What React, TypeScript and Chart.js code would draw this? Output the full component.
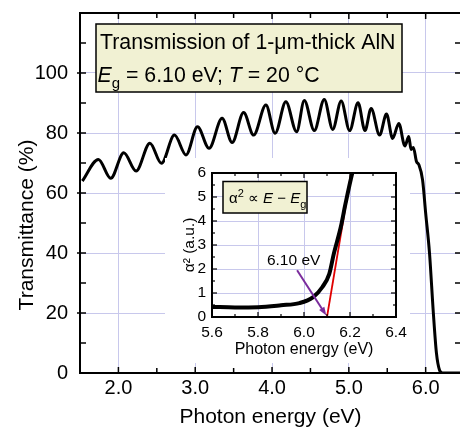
import React, { useEffect, useRef } from 'react';
import { Chart, registerables } from 'chart.js';

Chart.register(...registerables);

const FONT = '"Liberation Sans", Arial, Helvetica, sans-serif';
const GRID = '#c8c8ec';
const BOX_FILL = '#f1f1d3';

// ---- main spectrum (photon energy in eV, transmittance in %) ----
const photonEnergy = [
  1.53, 1.74, 1.90, 2.07, 2.23, 2.41, 2.56, 2.73, 2.88, 3.03, 3.18, 3.35, 3.48, 3.63, 3.76,
  3.92, 4.04, 4.18, 4.32, 4.42, 4.55, 4.68, 4.79, 4.90, 5.01, 5.12, 5.21, 5.29, 5.40, 5.49,
  5.57, 5.65, 5.73, 5.78, 5.81, 5.84, 5.88, 5.91, 5.96, 6.00, 6.05, 6.10, 6.14, 6.18, 6.22, 6.46,
];
const transmittance = [
  64, 71.2, 64.9, 73.4, 67.3, 76.6, 69.9, 79.3, 72.7, 82.1, 74.9, 84.9, 76.8, 86.8, 79.3,
  89.3, 79.9, 90.4, 80.4, 90.8, 80.8, 91.2, 81.2, 90.7, 80.8, 90.1, 80.8, 88.2, 79.3, 86.3,
  78.2, 83.2, 75.7, 78.8, 74.5, 75.2, 70.5, 69.5, 64.3, 53.3, 40, 20, 6.7, 1, 0, 0,
];
const mainXTicks = [2, 3, 4, 5, 6];
const mainYTicks = [0, 20, 40, 60, 80, 100];

// ---- inset: alpha^2 vs photon energy ----
const insetEnergy = [5.6, 5.7, 5.8, 5.9, 5.98, 6.04, 6.08, 6.11, 6.13, 6.16, 6.18, 6.21, 6.24];
const insetAlphaSq = [0.42, 0.4, 0.41, 0.49, 0.58, 0.83, 1.25, 1.8, 2.65, 3.75, 4.7, 6.0, 7.0];
const fitEnergy = [6.1, 6.205];
const fitAlphaSq = [0, 6];
const insetXTicks = [5.6, 5.8, 6.0, 6.2, 6.4];
const insetYTicks = [0, 1, 2, 3, 4, 5, 6];
const arrowStart = { x: 5.97, y: 1.95 };
const arrowEnd = { x: 6.097, y: 0.06 };
const arrowLabel = '6.10 eV';
const arrowLabelAt = { x: 5.955, y: 2.36 };

type Run = { t: string; italic?: boolean; sub?: boolean; sup?: boolean };

function drawRuns(ctx: CanvasRenderingContext2D, runs: Run[], x: number, y: number, size: number) {
  let cx = x;
  ctx.textAlign = 'left';
  ctx.textBaseline = 'alphabetic';
  for (const r of runs) {
    const s = r.sub || r.sup ? Math.round(size * 0.72) : size;
    ctx.font = `${r.italic ? 'italic ' : ''}${s}px ${FONT}`;
    const dy = r.sub ? size * 0.3 : r.sup ? -size * 0.38 : 0;
    ctx.fillText(r.t, cx, y + dy);
    cx += ctx.measureText(r.t).width;
  }
}

function seg(ctx: CanvasRenderingContext2D, x1: number, y1: number, x2: number, y2: number) {
  ctx.beginPath();
  ctx.moveTo(x1, y1);
  ctx.lineTo(x2, y2);
  ctx.stroke();
}

const mainDecor = {
  id: 'mainDecor',
  afterDatasetsDraw(chart: any) {
    const { ctx, chartArea: a, scales } = chart;
    const x = scales.x;
    const y = scales.y;
    ctx.save();
    ctx.strokeStyle = '#000';
    ctx.lineWidth = 1.5;
    for (let v = Math.ceil(x.min * 2) / 2; v <= x.max + 1e-9; v += 0.5) {
      const px = x.getPixelForValue(v);
      const major = Math.abs(v - Math.round(v)) < 1e-6;
      const len = major ? 6 : 5;
      seg(ctx, px, a.bottom, px, a.bottom - len);
      seg(ctx, px, a.top, px, a.top + len);
    }
    for (let v = 10; v < y.max; v += 10) {
      const py = y.getPixelForValue(v);
      const major = v % 20 === 0;
      seg(ctx, a.left - (major ? 3 : 0), py, a.left + 6, py);
      seg(ctx, a.right + (major ? 3 : 0), py, a.right - 6, py);
    }
    ctx.lineWidth = 2;
    ctx.strokeRect(a.left, a.top, a.right - a.left, a.bottom - a.top);

    // y-axis title
    ctx.save();
    ctx.translate(27, (a.top + a.bottom) / 2 + 32);
    ctx.rotate(-Math.PI / 2);
    ctx.fillStyle = '#000';
    ctx.font = `21px ${FONT}`;
    ctx.textAlign = 'center';
    ctx.textBaseline = 'middle';
    ctx.fillText('Transmittance (%)', 0, 0);
    ctx.restore();

    // title box
    const bx = a.left + 16;
    const by = a.top + 11;
    ctx.fillStyle = BOX_FILL;
    ctx.fillRect(bx, by, 306, 68);
    ctx.lineWidth = 1.5;
    ctx.strokeRect(bx, by, 306, 68);
    ctx.fillStyle = '#000';
    drawRuns(ctx, [{ t: 'Transmission of 1-μm-thick AlN' }], bx + 4, by + 25, 21.3);
    drawRuns(
      ctx,
      [
        { t: 'E', italic: true },
        { t: 'g', sub: true },
        { t: ' = 6.10 eV; ' },
        { t: 'T', italic: true },
        { t: ' = 20 °C' },
      ],
      bx + 1.5,
      by + 58,
      21.3,
    );
    ctx.restore();
  },
};

const insetDecor = {
  id: 'insetDecor',
  afterDatasetsDraw(chart: any) {
    const { ctx, chartArea: a, scales } = chart;
    const x = scales.x;
    const y = scales.y;
    ctx.save();
    ctx.strokeStyle = '#000';
    ctx.lineWidth = 1.2;
    for (let v = Math.round(x.min * 10) + 1; v < Math.round(x.max * 10); v += 1) {
      const px = x.getPixelForValue(v / 10);
      const len = v % 2 === 0 ? 5 : 3;
      seg(ctx, px, a.bottom, px, a.bottom - len);
      seg(ctx, px, a.top, px, a.top + len);
    }
    for (let k = 1; k < y.max * 2; k += 1) {
      const py = y.getPixelForValue(k / 2);
      const len = k % 2 === 0 ? 5 : 3;
      seg(ctx, a.left, py, a.left + len, py);
      seg(ctx, a.right, py, a.right - len, py);
    }
    ctx.lineWidth = 2;
    ctx.strokeRect(a.left, a.top, a.right - a.left, a.bottom - a.top);

    // arrow
    const x1 = x.getPixelForValue(arrowStart.x);
    const y1 = y.getPixelForValue(arrowStart.y);
    const x2 = x.getPixelForValue(arrowEnd.x);
    const y2 = y.getPixelForValue(arrowEnd.y);
    const ang = Math.atan2(y2 - y1, x2 - x1);
    const head = 9;
    ctx.strokeStyle = '#7a2c9c';
    ctx.fillStyle = '#7a2c9c';
    ctx.lineWidth = 2;
    seg(ctx, x1, y1, x2 - Math.cos(ang) * head * 0.8, y2 - Math.sin(ang) * head * 0.8);
    ctx.beginPath();
    ctx.moveTo(x2, y2);
    ctx.lineTo(x2 - head * Math.cos(ang - 0.35), y2 - head * Math.sin(ang - 0.35));
    ctx.lineTo(x2 - head * Math.cos(ang + 0.35), y2 - head * Math.sin(ang + 0.35));
    ctx.closePath();
    ctx.fill();

    ctx.fillStyle = '#000';
    ctx.font = `15.5px ${FONT}`;
    ctx.textAlign = 'center';
    ctx.textBaseline = 'middle';
    ctx.fillText(arrowLabel, x.getPixelForValue(arrowLabelAt.x), y.getPixelForValue(arrowLabelAt.y));

    // formula box
    const bx = a.left + 11;
    const by = a.top + 8.5;
    ctx.fillStyle = BOX_FILL;
    ctx.fillRect(bx, by, 84, 31.5);
    ctx.lineWidth = 1.5;
    ctx.strokeStyle = '#000';
    ctx.strokeRect(bx, by, 84, 31.5);
    ctx.fillStyle = '#000';
    drawRuns(
      ctx,
      [
        { t: 'α' },
        { t: '2', sup: true },
        { t: ' ∝ ' },
        { t: 'E', italic: true },
        { t: ' − ' },
        { t: 'E', italic: true },
        { t: 'g', sub: true },
      ],
      bx + 6,
      by + 21.5,
      15,
    );
    ctx.restore();
  },
};

export default function App() {
  const mainRef = useRef<HTMLCanvasElement>(null);
  const insetRef = useRef<HTMLCanvasElement>(null);

  useEffect(() => {
    const main = new Chart(mainRef.current as HTMLCanvasElement, {
      type: 'line',
      data: {
        datasets: [
          {
            data: photonEnergy.map((e, i) => ({ x: e, y: transmittance[i] })),
            borderColor: '#000',
            borderWidth: 3,
            pointRadius: 0,
            fill: false,
            cubicInterpolationMode: 'monotone',
          },
        ],
      },
      options: {
        animation: false,
        responsive: false,
        devicePixelRatio: 1,
        layout: { padding: { left: 0, top: 13, right: 19, bottom: 0 } },
        plugins: { legend: { display: false }, tooltip: { enabled: false } },
        scales: {
          x: {
            type: 'linear',
            min: 1.5,
            max: 6.46,
            afterBuildTicks: (s: any) => {
              s.ticks = mainXTicks.map((v) => ({ value: v }));
            },
            afterFit: (s: any) => {
              s.height = 55;
              s.paddingLeft = 0;
              s.paddingRight = 0;
            },
            grid: { color: GRID, lineWidth: 1, drawTicks: false },
            border: { display: false },
            ticks: {
              color: '#000',
              font: { family: FONT, size: 20 },
              padding: 3,
              maxRotation: 0,
              autoSkip: false,
              callback: (v: any) => Number(v).toFixed(1),
            },
            title: {
              display: true,
              text: 'Photon energy (eV)',
              color: '#000',
              font: { family: FONT, size: 21, lineHeight: 1 },
              padding: { top: 0, bottom: 0 },
            },
          },
          y: {
            type: 'linear',
            min: 0,
            max: 120,
            afterBuildTicks: (s: any) => {
              s.ticks = mainYTicks.map((v) => ({ value: v }));
            },
            afterFit: (s: any) => {
              s.width = 80;
              s.paddingTop = 0;
              s.paddingBottom = 0;
            },
            grid: { color: GRID, lineWidth: 1, drawTicks: false },
            border: { display: false },
            ticks: {
              color: '#000',
              font: { family: FONT, size: 20 },
              padding: 12,
              callback: (v: any) => String(v),
            },
          },
        },
      },
      plugins: [mainDecor],
    } as any);

    const inset = new Chart(insetRef.current as HTMLCanvasElement, {
      type: 'line',
      data: {
        datasets: [
          {
            data: insetEnergy.map((e, i) => ({ x: e, y: insetAlphaSq[i] })),
            borderColor: '#000',
            borderWidth: 4,
            pointRadius: 0,
            fill: false,
            cubicInterpolationMode: 'monotone',
          },
          {
            data: fitEnergy.map((e, i) => ({ x: e, y: fitAlphaSq[i] })),
            borderColor: '#e00000',
            borderWidth: 1.8,
            pointRadius: 0,
            fill: false,
          },
        ],
      },
      options: {
        animation: false,
        responsive: false,
        devicePixelRatio: 1,
        layout: { padding: { left: 0, top: 15, right: 14, bottom: 0 } },
        plugins: { legend: { display: false }, tooltip: { enabled: false } },
        scales: {
          x: {
            type: 'linear',
            min: 5.6,
            max: 6.4,
            afterBuildTicks: (s: any) => {
              s.ticks = insetXTicks.map((v) => ({ value: v }));
            },
            afterFit: (s: any) => {
              s.height = 46;
              s.paddingLeft = 0;
              s.paddingRight = 0;
            },
            grid: { color: GRID, lineWidth: 1, drawTicks: false },
            border: { display: false },
            ticks: {
              color: '#000',
              font: { family: FONT, size: 15.5 },
              padding: 6,
              maxRotation: 0,
              autoSkip: false,
              callback: (v: any) => Number(v).toFixed(1),
            },
            title: {
              display: true,
              text: 'Photon energy (eV)',
              color: '#000',
              font: { family: FONT, size: 16, lineHeight: 1 },
              padding: { top: 0, bottom: 5 },
            },
          },
          y: {
            type: 'linear',
            min: 0,
            max: 6,
            afterBuildTicks: (s: any) => {
              s.ticks = insetYTicks.map((v) => ({ value: v }));
            },
            afterFit: (s: any) => {
              s.width = 47;
              s.paddingTop = 0;
              s.paddingBottom = 0;
            },
            grid: { color: GRID, lineWidth: 1, drawTicks: false },
            border: { display: false },
            ticks: {
              color: '#000',
              font: { family: FONT, size: 15.5 },
              padding: 6,
              callback: (v: any) => String(v),
            },
            title: {
              display: true,
              text: 'α² (a.u.)',
              color: '#000',
              font: { family: FONT, size: 15.5, lineHeight: 1 },
              padding: { top: 17, bottom: 0 },
            },
          },
        },
      },
      plugins: [insetDecor],
    } as any);

    return () => {
      main.destroy();
      inset.destroy();
    };
  }, []);

  return (
    <div
      style={{
        position: 'absolute',
        left: 0,
        top: 0,
        width: 460,
        height: 428,
        overflow: 'hidden',
        background: '#fff',
      }}
    >
      <canvas
        ref={mainRef}
        width={480}
        height={428}
        style={{ position: 'absolute', left: 0, top: 0, width: 480, height: 428 }}
      />
      <canvas
        ref={insetRef}
        width={245}
        height={205}
        style={{ position: 'absolute', left: 165, top: 158, width: 245, height: 205, background: '#fff' }}
      />
    </div>
  );
}
